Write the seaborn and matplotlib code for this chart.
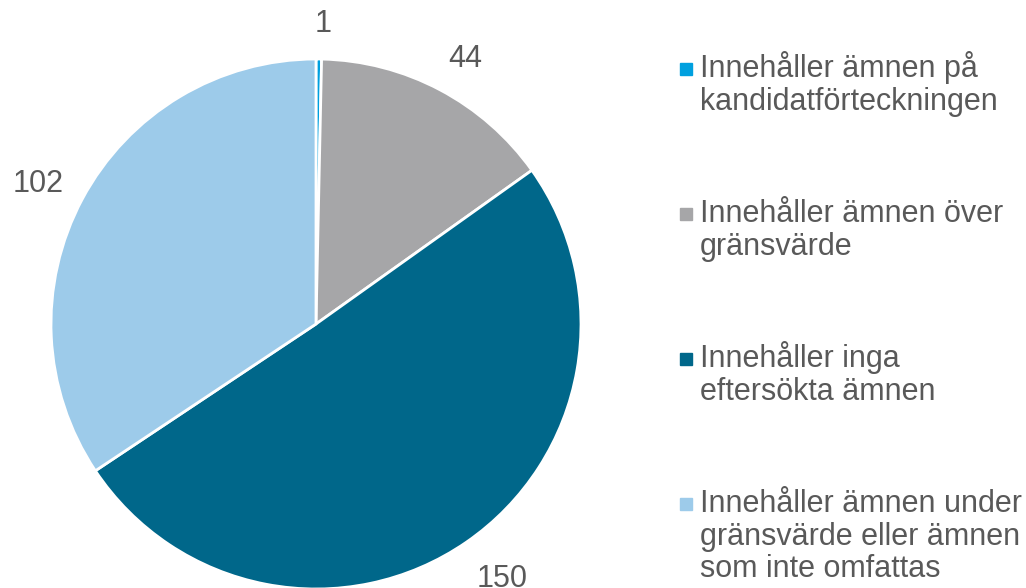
import numpy as np
import seaborn as sns
import matplotlib.pyplot as plt
from matplotlib.lines import Line2D

sns.set_theme(style='white')
plt.rcParams['font.family'] = ['Liberation Sans', 'DejaVu Sans']

# ---------------- data ----------------
categories = ['Innehåller ämnen på\nkandidatförteckningen',
              'Innehåller ämnen över\ngränsvärde',
              'Innehåller inga\neftersökta ämnen',
              'Innehåller ämnen under\ngränsvärde eller ämnen\nsom inte omfattas']
values = [1, 44, 150, 102]
colors = ['#00A0DF', '#A6A6A8', '#00678A', '#9DCBEA']
text_color = '#595959'
FS = 22

# ---------------- chart ----------------
W, H = 1026, 588
fig = plt.figure(figsize=(W / 100, H / 100), dpi=100)
cx, cy, r = 316, 324, 265
ax = fig.add_axes([(cx - r) / W, (H - cy - r) / H, 2 * r / W, 2 * r / H])

wedges, _ = ax.pie(values, colors=colors, startangle=90, counterclock=False,
                   wedgeprops=dict(edgecolor='white', linewidth=2), radius=1)
ax.set_xlim(-1, 1)
ax.set_ylim(-1, 1)
ax.set_aspect('equal')
ax.axis('off')

# value labels outside each wedge, pushed out by half the text box
fs_px = FS * 100 / 72
for w, v in zip(wedges, values):
    ang = np.deg2rad((w.theta1 + w.theta2) / 2)
    s = f'{v}'
    hw, hh = 0.3 * len(s) * fs_px, 0.37 * fs_px
    ax.annotate(s, xy=(1.105 * np.cos(ang), 1.105 * np.sin(ang)),
                xytext=(hw * np.cos(ang) + 4, hh * np.sin(ang) - 4), textcoords='offset pixels',
                ha='center', va='center', fontsize=FS, color=text_color, annotation_clip=False)

# legend: square marker beside first line of each wrapped label
leg_x, leg_y0, leg_step, line_px = 700, 77, 145, 32.5
for i, (lab, c) in enumerate(zip(categories, colors)):
    yb = leg_y0 + i * leg_step
    n_lines = lab.count('\n') + 1
    # va='baseline' pins the last line, so shift down by the extra lines
    fig.text(leg_x / W, 1 - (yb + (n_lines - 1) * line_px) / H, lab, ha='left', va='baseline',
             fontsize=FS, color=text_color, linespacing=1.10)
    fig.add_artist(Line2D([686 / W], [1 - (yb - 8.5) / H], transform=fig.transFigure,
                          marker='s', markersize=8, linestyle='none',
                          markerfacecolor=c, markeredgecolor=c))

fig.savefig('out.png', dpi=100)
